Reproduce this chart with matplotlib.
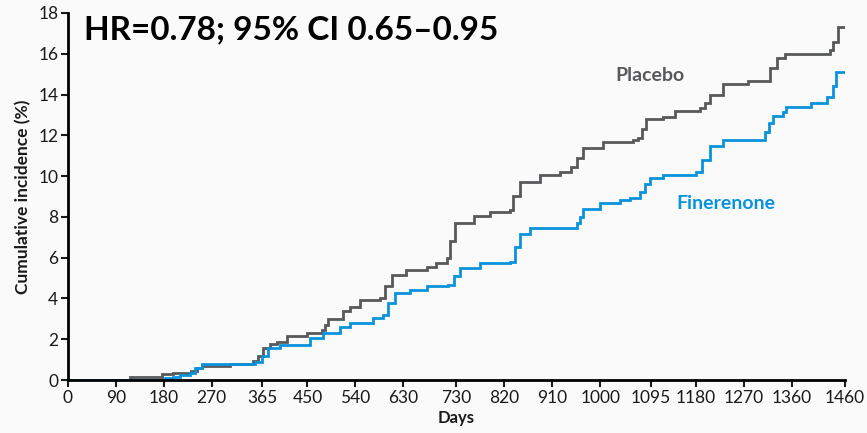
import matplotlib
matplotlib.use("Agg")
import matplotlib.pyplot as plt

# Cumulative incidence (%) step curves, days since randomisation
PLACEBO_DAYS = [0, 117, 176, 197, 232, 242, 251, 304, 348, 357, 367, 380, 393, 411,
                449, 477, 483, 489, 517, 530, 549, 586, 596, 608, 636, 674, 691, 712,
                718, 727, 762, 793, 830, 836, 849, 887, 924, 946, 956, 968, 1006, 1062,
                1072, 1079, 1087, 1119, 1141, 1188, 1197, 1206, 1231, 1278, 1319, 1332,
                1347, 1432, 1438, 1447, 1460]
PLACEBO_PCT = [0.0, 0.16, 0.30, 0.36, 0.42, 0.60, 0.70, 0.80, 0.95, 1.20, 1.55, 1.77, 1.85, 2.16,
               2.29, 2.45, 2.70, 3.00, 3.40, 3.60, 3.92, 4.00, 4.60, 5.15, 5.39, 5.53, 5.75, 5.97,
               6.80, 7.68, 8.04, 8.22, 8.34, 9.00, 9.73, 10.05, 10.22, 10.43, 10.90, 11.36, 11.69, 11.77,
               11.85, 12.30, 12.80, 12.91, 13.21, 13.32, 13.60, 13.98, 14.54, 14.68, 15.28, 15.77,
               15.99, 16.18, 16.59, 17.33, 17.33]

FINERENONE_DAYS = [0, 173, 182, 197, 210, 229, 239, 251, 351, 365, 376, 398, 455, 480,
                   511, 530, 574, 592, 601, 614, 643, 674, 715, 725, 737, 774, 830, 840,
                   849, 868, 956, 962, 968, 1000, 1037, 1056, 1075, 1084, 1094, 1119, 1181,
                   1191, 1206, 1231, 1310, 1317, 1325, 1344, 1350, 1397, 1426, 1438, 1444, 1460]
FINERENONE_PCT = [0.0, 0.0, 0.10, 0.15, 0.25, 0.35, 0.60, 0.78, 0.90, 1.20, 1.55, 1.72, 2.04, 2.32,
                  2.61, 2.81, 3.02, 3.19, 3.80, 4.25, 4.40, 4.61, 4.66, 5.10, 5.48, 5.72, 5.80, 6.50,
                  7.16, 7.44, 7.68, 8.00, 8.37, 8.66, 8.83, 8.91, 9.24, 9.60, 9.89, 10.05, 10.22,
                  10.80, 11.48, 11.77, 12.18, 12.60, 12.95, 13.16, 13.37, 13.60, 13.90, 14.42, 15.09, 15.09]

X_TICKS = [0, 90, 180, 270, 365, 450, 540, 630, 730, 820, 910, 1000, 1095, 1180, 1270, 1360, 1460]
Y_TICKS = [0, 2, 4, 6, 8, 10, 12, 14, 16, 18]

GREY = "#58595B"
BLUE = "#0A93DC"
BG = "#FAFAFA"
INK = "#1A1A1A"

plt.rcParams["font.family"] = ["Lato", "DejaVu Sans"]

fig = plt.figure(figsize=(8.67, 4.33), dpi=100, facecolor=BG)
ax = fig.add_axes([0.0784, 0.1224, 0.8962, 0.8476])
ax.set_facecolor(BG)

ax.step(PLACEBO_DAYS, PLACEBO_PCT, where="post", color=GREY, lw=2.0, solid_joinstyle="miter")
ax.step(FINERENONE_DAYS, FINERENONE_PCT, where="post", color=BLUE, lw=2.0, solid_joinstyle="miter")

ax.set_xlim(0, 1460)
ax.set_ylim(0, 18)
ax.set_xticks(X_TICKS)
ax.set_yticks(Y_TICKS)
ax.tick_params(axis="both", direction="out", length=5, width=1.5, colors=INK,
               labelsize=12.5, pad=2)

for side in ("top", "right"):
    ax.spines[side].set_visible(False)
for side in ("left", "bottom"):
    ax.spines[side].set_linewidth(2)
    ax.spines[side].set_color("black")

ax.set_xlabel("Days", fontsize=12, fontweight="bold", color=INK, labelpad=3)
ax.set_ylabel("Cumulative incidence (%)", fontsize=12.5, fontweight="bold", color=INK, labelpad=5)

ax.text(30, 17.9, "HR=0.78; 95% CI 0.65\u20130.95", fontsize=24, fontweight="bold",
        color="black", ha="left", va="top")
ax.text(1094, 14.95, "Placebo", fontsize=14, fontweight="bold", color=GREY,
        ha="center", va="center")
ax.text(1237, 8.68, "Finerenone", fontsize=14, fontweight="bold", color=BLUE,
        ha="center", va="center")

fig.savefig("out.png", dpi=100, facecolor=BG)
